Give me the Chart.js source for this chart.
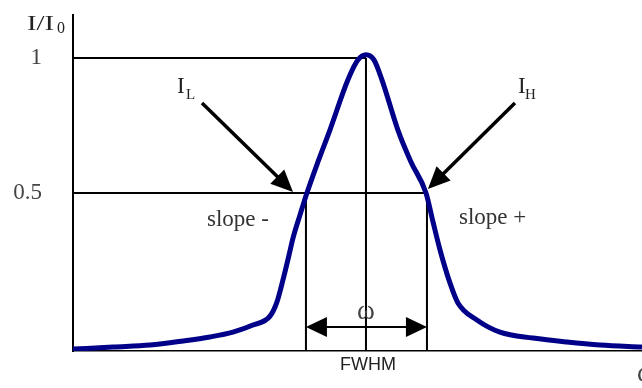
<!DOCTYPE html>
<html>
<head>
<meta charset="utf-8">
<script src="https://cdn.jsdelivr.net/npm/chart.js@4.4.1/dist/chart.umd.min.js"></script>
<style>
  html, body { margin: 0; padding: 0; background: #fff; }
  #wrap { width: 642px; height: 388px; position: relative; }
</style>
</head>
<body>
<div id="wrap"><canvas id="c" width="642" height="388"></canvas></div>
<script>
// ---- data (frequency in FWHM units, centred on the peak; intensity I/I0) ----
const freq = [-2.421, -2.091, -1.785, -1.512, -1.289, -1.099, -0.934, -0.793, -0.736, -0.686,
  -0.636, -0.603, -0.545, -0.488, -0.397, -0.298, -0.149, -0.066, 0,
  0.066, 0.132, 0.264, 0.372, 0.496, 0.554, 0.612, 0.694, 0.760, 0.917,
  1.107, 1.380, 1.661, 1.934, 2.281];
const intensity = [-0.078, -0.070, -0.063, -0.048, -0.033, -0.015, 0.011, 0.044, 0.096, 0.178,
  0.270, 0.333, 0.419, 0.500, 0.615, 0.733, 0.919, 0.993, 1.012,
  0.993, 0.919, 0.733, 0.615, 0.500, 0.393, 0.289, 0.167, 0.093, 0.030,
  -0.015, -0.037, -0.052, -0.063, -0.070];
const yTicks = [0.5, 1];
const yTickLabels = ['0.5', '1'];
const maxLevel = 1;
const halfLevel = 0.5;
const peakFreq = 0;
const fwhmBounds = [-0.496, 0.504];
const fwhmArrowLevel = 0.004;
// arrows: [fromX, fromY, toX, toY] in data units
const arrowIL = [-1.355, 0.833, -0.603, 0.504];
const arrowIH = [1.231, 0.833, 0.512, 0.515];

const serif = '"Liberation Serif", "DejaVu Serif", serif';
const sans = '"Liberation Sans", Arial, sans-serif';

function arrowHead(ctx, x1, y1, x2, y2, len, half) {
  const a = Math.atan2(y2 - y1, x2 - x1);
  ctx.beginPath();
  ctx.moveTo(x2, y2);
  ctx.lineTo(x2 - len * Math.cos(a) + half * Math.sin(a), y2 - len * Math.sin(a) - half * Math.cos(a));
  ctx.lineTo(x2 - len * Math.cos(a) - half * Math.sin(a), y2 - len * Math.sin(a) + half * Math.cos(a));
  ctx.closePath();
  ctx.fill();
}

const annot = {
  id: 'annot',
  beforeDatasetsDraw(chart) {
    const ctx = chart.ctx, xs = chart.scales.x, ys = chart.scales.y;
    const X = v => xs.getPixelForValue(v), Y = v => ys.getPixelForValue(v);
    const x0 = chart.chartArea.left, yb = chart.chartArea.bottom;
    ctx.save();
    ctx.strokeStyle = '#000';
    ctx.lineWidth = 2;
    ctx.beginPath();
    ctx.moveTo(x0, Y(maxLevel)); ctx.lineTo(X(peakFreq), Y(maxLevel));
    ctx.moveTo(x0, Y(halfLevel)); ctx.lineTo(X(fwhmBounds[1]), Y(halfLevel));
    ctx.moveTo(X(peakFreq), Y(maxLevel)); ctx.lineTo(X(peakFreq), yb);
    ctx.moveTo(X(fwhmBounds[0]), Y(halfLevel)); ctx.lineTo(X(fwhmBounds[0]), yb);
    ctx.moveTo(X(fwhmBounds[1]), Y(halfLevel)); ctx.lineTo(X(fwhmBounds[1]), yb);
    ctx.stroke();
    ctx.restore();
  },
  afterDatasetsDraw(chart) {
    const ctx = chart.ctx, xs = chart.scales.x, ys = chart.scales.y;
    const X = v => xs.getPixelForValue(v), Y = v => ys.getPixelForValue(v);
    ctx.save();
    ctx.fillStyle = '#000';
    ctx.strokeStyle = '#000';
    // FWHM double arrow
    const ya = Y(fwhmArrowLevel), xl = X(fwhmBounds[0]), xr = X(fwhmBounds[1]);
    ctx.lineWidth = 2;
    ctx.beginPath(); ctx.moveTo(xl + 10, ya); ctx.lineTo(xr - 10, ya); ctx.stroke();
    arrowHead(ctx, xr, ya, xl, ya, 21, 10);
    arrowHead(ctx, xl, ya, xr, ya, 21, 10);
    // I_L and I_H arrows
    for (const a of [arrowIL, arrowIH]) {
      const x1 = X(a[0]), y1 = Y(a[1]), x2 = X(a[2]), y2 = Y(a[3]);
      const ang = Math.atan2(y2 - y1, x2 - x1);
      ctx.lineWidth = 3.5;
      ctx.beginPath(); ctx.moveTo(x1, y1); ctx.lineTo(x2 - 12 * Math.cos(ang), y2 - 12 * Math.sin(ang)); ctx.stroke();
      arrowHead(ctx, x1, y1, x2, y2, 22, 10);
    }
    // texts
    ctx.textBaseline = 'alphabetic';
    ctx.fillStyle = '#222';
    ctx.textAlign = 'left';
    // I/I0
    ctx.save();
    ctx.translate(27, 30); ctx.scale(1.3, 1);
    ctx.font = '22px ' + serif; ctx.fillText('I/I', 0, 0);
    ctx.restore();
    ctx.font = '16px ' + serif; ctx.fillText('0', 57, 33);
    // I_L
    ctx.font = '23px ' + serif; ctx.fillText('I', 177, 93);
    ctx.font = '15px ' + serif; ctx.fillText('L', 186, 99);
    // I_H
    ctx.font = '23px ' + serif; ctx.fillText('I', 518, 93);
    ctx.font = '15px ' + serif; ctx.fillText('H', 525, 99);
    // slopes
    ctx.fillStyle = '#333';
    ctx.font = '23px ' + serif;
    ctx.fillText('slope -', 207, 226);
    ctx.fillText('slope +', 459, 224);
    // omega
    ctx.textAlign = 'center';
    ctx.fillStyle = '#444';
    ctx.font = '27px ' + serif;
    ctx.fillText('\u03c9', X(peakFreq), 319);
    ctx.textAlign = 'left';
    ctx.fillText('\u03c9', 637, 381);
    // FWHM
    ctx.textAlign = 'center';
    ctx.fillStyle = '#222';
    ctx.font = '18px ' + sans;
    ctx.fillText('FWHM', X(peakFreq) + 2, 370);
    ctx.restore();
  }
};

function noPad(s) { s.paddingTop = 0; s.paddingBottom = 0; s.paddingLeft = 0; s.paddingRight = 0; }

new Chart(document.getElementById('c'), {
  type: 'line',
  data: {
    datasets: [{
      data: freq.map((f, i) => ({ x: f, y: intensity[i] })),
      borderColor: '#000088',
      borderWidth: 5,
      pointRadius: 0,
      fill: false,
      cubicInterpolationMode: 'monotone'
    }]
  },
  options: {
    responsive: false,
    animation: false,
    devicePixelRatio: 1,
    layout: { padding: { top: 15, right: 0, bottom: 37, left: 0 } },
    plugins: { legend: { display: false }, tooltip: { enabled: false } },
    scales: {
      x: {
        type: 'linear',
        min: -2.421, max: 2.281,
        grid: { display: false, drawTicks: false },
        border: { display: true, color: '#000', width: 1.5 },
        ticks: { display: false },
        afterFit: s => { s.height = 0; noPad(s); }
      },
      y: {
        type: 'linear',
        min: -0.085, max: 1.159,
        grid: { display: false, drawTicks: false },
        border: { display: true, color: '#000', width: 2 },
        afterBuildTicks: s => { s.ticks = yTicks.map(v => ({ value: v })); },
        ticks: {
          padding: 31,
          color: '#444',
          font: { family: serif, size: 23 },
          callback: v => yTickLabels[yTicks.indexOf(v)]
        },
        afterFit: s => { s.width = 73; noPad(s); }
      }
    }
  },
  plugins: [annot]
});
</script>
</body>
</html>
